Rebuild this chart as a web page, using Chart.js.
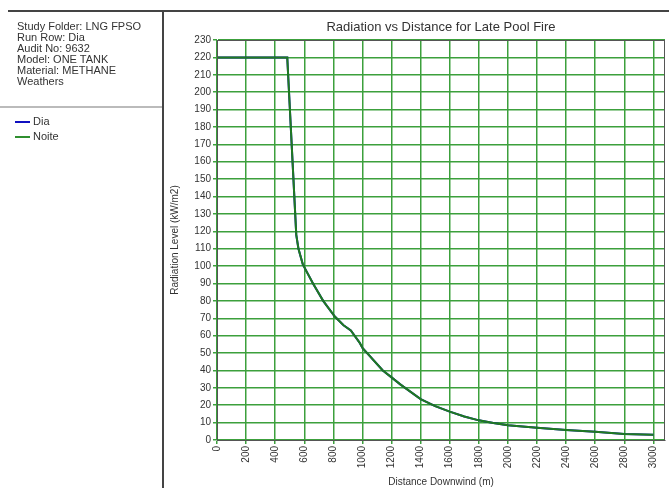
<!DOCTYPE html>
<html>
<head>
<meta charset="utf-8">
<script src="https://cdn.jsdelivr.net/npm/chart.js@4.4.1/dist/chart.umd.min.js"></script>
<style>
  html, body { margin: 0; padding: 0; background: #fff; }
  #wrap { position: relative; width: 669px; height: 488px; overflow: hidden; font-family: "Liberation Sans", Arial, sans-serif; }
  #chart { position: absolute; left: 0; top: 0; }
  #topline { position: absolute; left: 8px; top: 10px; width: 661px; height: 2px; background: #444; }
  #divider { position: absolute; left: 162px; top: 11px; width: 2px; height: 477px; background: #444; }
  #info { position: absolute; left: 17px; top: 21px; font-size: 11px; line-height: 11px; color: #333; }
  #sep { position: absolute; left: 0; top: 106px; width: 162px; height: 2px; background: #bbb; }
  .leg { position: absolute; left: 15px; font-size: 11px; color: #333; }
  .leg span { display: inline-block; width: 15px; height: 2px; vertical-align: middle; margin-right: 3px; }
</style>
</head>
<body>
<div id="wrap">
  <canvas id="chart" width="669" height="488"></canvas>
  <div id="topline"></div>
  <div id="divider"></div>
  <div id="info">
    Study Folder: LNG FPSO<br>
    Run Row: Dia<br>
    Audit No: 9632<br>
    Model: ONE TANK<br>
    Material: METHANE<br>
    Weathers
  </div>
  <div id="sep"></div>
  <div class="leg" style="top:115px"><span style="background:#1010c0"></span>Dia</div>
  <div class="leg" style="top:130px"><span style="background:#2f8f2f"></span>Noite</div>
</div>
<script>
// distance downwind (m) and radiation level (kW/m2)
const distances = [0, 483, 545, 560, 590, 660, 730, 810, 870, 920, 980, 1000, 1140, 1200, 1260, 1400, 1500, 1600, 1700, 1800, 1900, 2000, 2100, 2200, 2400, 2600, 2800, 3000];
const radiationDia = [220, 220, 118, 110, 101, 90, 80, 71, 66, 63, 56, 53, 40, 36, 32, 23.5, 19.5, 16.3, 13.5, 11.3, 9.8, 8.5, 7.7, 7, 5.8, 4.8, 3.5, 3];
const radiationNoite = [220, 220, 118, 110, 101, 90, 80, 71, 66, 63, 56, 53, 40, 36, 32, 23.5, 19.5, 16.3, 13.5, 11.3, 9.8, 8.5, 7.7, 7, 5.8, 4.8, 3.5, 3];
const chartTitle = 'Radiation vs Distance for Late Pool Fire';

const toPoints = (xs, ys) => xs.map((x, i) => ({x: x, y: ys[i]}));

const txt = {family: '"Liberation Sans", Arial, sans-serif', size: 10};

// frame round the plot plus the title centred over the plot area
const frame = {
  id: 'frame',
  afterDraw(chart) {
    const a = chart.chartArea, ctx = chart.ctx;
    ctx.save();
    ctx.strokeStyle = '#555';
    ctx.lineWidth = 1;
    ctx.strokeRect(a.left + 0.5, a.top + 0.5, a.right - a.left - 1, a.bottom - a.top);
    ctx.fillStyle = '#333';
    ctx.font = '13px ' + txt.family;
    ctx.textAlign = 'center';
    ctx.textBaseline = 'middle';
    ctx.fillText(chartTitle, (a.left + a.right) / 2, 27);
    ctx.restore();
  }
};

const gridStyle = {color: 'rgb(60,160,60)', lineWidth: 1.5, tickLength: 4, tickColor: 'rgb(60,160,60)'};

new Chart(document.getElementById('chart'), {
  type: 'line',
  data: {
    datasets: [
      {label: 'Noite', data: toPoints(distances, radiationNoite), borderColor: '#1f7a1f', borderWidth: 2, pointRadius: 0, tension: 0},
      {label: 'Dia', data: toPoints(distances, radiationDia), borderColor: '#1010c0', borderWidth: 2, pointRadius: 0, tension: 0}
    ]
  },
  plugins: [frame],
  options: {
    responsive: false,
    animation: false,
    layout: {padding: {left: 165, top: 40, right: 4, bottom: 0}},
    plugins: {
      legend: {display: false},
      tooltip: {enabled: false}
    },
    scales: {
      x: {
        type: 'linear',
        min: 0,
        max: 3080,
        ticks: {stepSize: 200, includeBounds: false, maxRotation: 90, minRotation: 90, color: '#333', font: txt, padding: 2,
          callback: v => String(v)},
        grid: gridStyle,
        border: {color: '#444', width: 1},
        title: {display: true, text: 'Distance Downwind (m)', color: '#333', font: txt, padding: 0},
        afterFit(s) { s.height = 48; }
      },
      y: {
        min: 0,
        max: 230,
        ticks: {stepSize: 10, color: '#333', font: txt, padding: 2},
        grid: gridStyle,
        border: {color: '#444', width: 1},
        title: {display: true, text: 'Radiation Level (kW/m2)', color: '#333', font: txt, padding: {top: 4, bottom: 0}},
        afterFit(s) { s.width = 52; }
      }
    }
  }
});
</script>
</body>
</html>
